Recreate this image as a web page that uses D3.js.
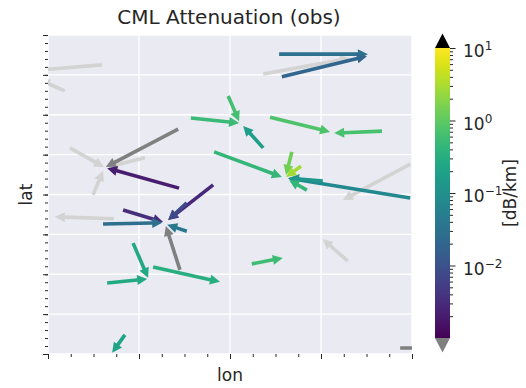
<!DOCTYPE html>
<html>
<head>
<meta charset="utf-8">
<script src="https://cdn.jsdelivr.net/npm/d3@7"></script>
<style>
  body { margin: 0; background: #fff; }
  text { font-family: "DejaVu Sans", "Liberation Sans", Arial, sans-serif; fill: #262626; }
</style>
</head>
<body>
<svg id="chart" width="526" height="388"></svg>
<script>
// Link end points: site A (tail) -> site B (arrow head), degrees
const siteALon = [11.473, 11.119, 11.037, 11.796, 11.048, 11.213, 11.099, 11.145, 11.659,
                  11.286, 11.290, 11.774,
                  11.508, 11.514, 11.314, 11.396, 11.473, 11.488, 11.734, 11.796, 11.604,
                  11.365, 11.569, 11.536, 11.556, 11.288, 11.363, 11.305, 11.165, 11.121,
                  11.305, 11.187, 11.130, 11.231, 11.169, 11.448];
const siteALat = [48.302, 48.325, 48.260, 48.076, 48.117, 48.092, 47.999, 47.939, 47.833,
                  48.164, 47.811, 47.615,
                  48.352, 48.295, 48.192, 48.247, 48.117, 48.194, 48.159, 47.991, 48.034,
                  48.107, 48.011, 48.107, 48.071, 48.016, 48.024, 47.979, 47.961, 47.926,
                  47.908, 47.878, 47.778, 47.818, 47.648, 47.826];
const siteBLon = [11.664, 10.978, 10.982, 11.648, 11.123, 11.132, 11.121, 11.015, 11.604,
                  11.127, 11.259, 11.822,
                  11.703, 11.701, 11.420, 11.420, 11.429, 11.620, 11.629, 11.527, 11.530,
                  11.514, 11.530, 11.523, 11.523, 11.130, 11.264, 11.264, 11.253, 11.251,
                  11.262, 11.220, 11.218, 11.378, 11.141, 11.516];
const siteBLat = [48.342, 48.312, 48.287, 47.986, 48.069, 48.069, 48.059, 47.944, 47.888,
                  48.069, 47.921, 47.615,
                  48.352, 48.347, 48.179, 48.184, 48.172, 48.157, 48.154, 48.041, 48.041,
                  48.044, 48.036, 48.049, 48.044, 48.066, 47.936, 47.936, 47.931, 47.929,
                  47.924, 47.791, 47.788, 47.781, 47.603, 47.841];
// Observed attenuation per link [dB/km]; NaN = no observation
const attenuation = [NaN, NaN, NaN, NaN, NaN, NaN, NaN, NaN, NaN,
                     0.0004, 0.0006, 0.0003,
                     0.030, 0.021, 0.52, 0.63, 0.16, 0.76, 0.69, 0.076, 0.12,
                     0.44, 0.44, 1.3, 2.75, 0.0021, 0.003, 0.0076, 0.0033, 0.028,
                     0.04, 0.25, 0.27, 0.33, 0.21, 0.57];

const lonMajor = [11.0, 11.2, 11.4, 11.6, 11.8];
const latMajor = [47.6, 47.7, 47.8, 47.9, 48.0, 48.1, 48.2, 48.3, 48.4];
const cbarMajor = [10, 1, 0.1, 0.01];
const cbarExponents = ["1", "0", "\u22121", "\u22122"];
const vmin = 1e-3, vmax = 10;

const svg = d3.select("#chart");
const plot = { left: 48, right: 412, top: 35, bottom: 354 };

const x = d3.scaleLinear().domain([11.0, 11.8]).range([plot.left, plot.right]);
const y = d3.scaleLinear().domain([47.6, 48.4]).range([plot.bottom, plot.top]);

const lonMinor = d3.range(11.0, 11.8001, 0.05).map(v => +v.toFixed(3));
const latMinor = d3.range(47.6, 48.4001, 0.02).map(v => +v.toFixed(3));

// background + grid
svg.append("rect")
  .attr("x", plot.left).attr("y", plot.top)
  .attr("width", plot.right - plot.left).attr("height", plot.bottom - plot.top)
  .attr("fill", "#eaeaf2");

const defs = svg.append("defs");
defs.append("clipPath").attr("id", "plotclip")
  .append("rect")
  .attr("x", plot.left).attr("y", plot.top)
  .attr("width", plot.right - plot.left).attr("height", plot.bottom - plot.top);

const grid = svg.append("g");
grid.selectAll("line.gx").data(lonMajor).join("line")
  .attr("x1", d => x(d)).attr("x2", d => x(d))
  .attr("y1", plot.top).attr("y2", plot.bottom)
  .attr("stroke", "#fff").attr("stroke-width", 1.3);
grid.selectAll("line.gy").data(latMajor).join("line")
  .attr("y1", d => y(d)).attr("y2", d => y(d))
  .attr("x1", plot.left).attr("x2", plot.right)
  .attr("stroke", "#fff").attr("stroke-width", 1.3);

// axes: tick marks only, no labels
function styleAxis(g) {
  g.select(".domain").remove();
  g.selectAll(".tick line").attr("stroke", "#262626").attr("stroke-width", 1);
  g.selectAll(".tick text").remove();
}
svg.append("g").attr("transform", `translate(0,${plot.bottom})`)
  .call(d3.axisBottom(x).tickValues(lonMinor).tickSize(3).tickFormat("")).call(styleAxis);
svg.append("g").attr("transform", `translate(0,${plot.bottom})`)
  .call(d3.axisBottom(x).tickValues(lonMajor).tickSize(5).tickFormat("")).call(styleAxis);
svg.append("g").attr("transform", `translate(${plot.left},0)`)
  .call(d3.axisLeft(y).tickValues(latMinor).tickSize(3).tickFormat("")).call(styleAxis);
svg.append("g").attr("transform", `translate(${plot.left},0)`)
  .call(d3.axisLeft(y).tickValues(latMajor).tickSize(5).tickFormat("")).call(styleAxis);

// colour mapping (log norm, viridis, grey under / black over / light grey for missing)
const norm = d3.scaleLog().domain([vmin, vmax]).range([0, 1]);
function colour(v) {
  if (v == null || isNaN(v)) return "#d3d3d3";
  if (v < vmin) return "#808080";
  if (v > vmax) return "#000000";
  return d3.interpolateViridis(norm(v));
}

function arrowPath(x1, y1, x2, y2) {
  const dx = x2 - x1, dy = y2 - y1, L = Math.hypot(dx, dy);
  const ux = dx / L, uy = dy / L, nx = -uy, ny = ux;
  const hl = Math.min(10, L * 0.6), hw = 5, sw = 1.8;
  const bx = x2 - ux * hl, by = y2 - uy * hl;
  const p = d3.path();
  p.moveTo(x1 + nx * sw, y1 + ny * sw);
  p.lineTo(bx + nx * sw, by + ny * sw);
  p.lineTo(bx + nx * hw, by + ny * hw);
  p.lineTo(x2, y2);
  p.lineTo(bx - nx * hw, by - ny * hw);
  p.lineTo(bx - nx * sw, by - ny * sw);
  p.lineTo(x1 - nx * sw, y1 - ny * sw);
  p.closePath();
  return p.toString();
}

const links = attenuation.map((v, i) => ({
  a: [siteALon[i], siteALat[i]], b: [siteBLon[i], siteBLat[i]], v
}));

svg.append("g").attr("clip-path", "url(#plotclip)")
  .selectAll("path").data(links).join("path")
  .attr("d", d => arrowPath(x(d.a[0]), y(d.a[1]), x(d.b[0]), y(d.b[1])))
  .attr("fill", d => colour(d.v));

// colour bar
const cb = { left: 435, width: 15, top: 48, bottom: 338, ext: 14.5 };
const cy = d3.scaleLog().domain([vmin, vmax]).range([cb.bottom, cb.top]);
const grad = defs.append("linearGradient")
  .attr("id", "cbgrad").attr("x1", 0).attr("y1", 1).attr("x2", 0).attr("y2", 0);
grad.selectAll("stop").data(d3.range(0, 1.0001, 1 / 40)).join("stop")
  .attr("offset", d => d).attr("stop-color", d => d3.interpolateViridis(d));
svg.append("rect")
  .attr("x", cb.left).attr("y", cb.top)
  .attr("width", cb.width).attr("height", cb.bottom - cb.top)
  .attr("fill", "url(#cbgrad)");
const cmid = cb.left + cb.width / 2;
svg.append("path")
  .attr("d", `M${cb.left},${cb.top}L${cb.left + cb.width},${cb.top}L${cmid},${cb.top - cb.ext}Z`)
  .attr("fill", colour(vmax * 10));
svg.append("path")
  .attr("d", `M${cb.left},${cb.bottom}L${cb.left + cb.width},${cb.bottom}L${cmid},${cb.bottom + cb.ext}Z`)
  .attr("fill", colour(vmin / 10));

const cbMinor = [];
[0.001, 0.01, 0.1, 1].forEach(d => { for (let k = 2; k <= 9; k++) cbMinor.push(d * k); });
const cbAxisX = cb.left + cb.width;
svg.append("g").attr("transform", `translate(${cbAxisX},0)`)
  .call(d3.axisRight(cy).tickValues(cbMinor).tickSize(3).tickFormat("")).call(styleAxis);
svg.append("g").attr("transform", `translate(${cbAxisX},0)`)
  .call(d3.axisRight(cy).tickValues(cbarMajor).tickSize(5.5).tickFormat("")).call(styleAxis);

const cbl = svg.append("g").selectAll("text").data(cbarMajor).join("text")
  .attr("x", cbAxisX + 13).attr("y", d => cy(d) + 9)
  .attr("font-size", 17);
cbl.append("tspan").text("10");
cbl.append("tspan").attr("dy", -7).attr("font-size", 12).text((d, i) => cbarExponents[i]);

// titles and axis labels
svg.append("text").attr("x", 229).attr("y", 24).attr("text-anchor", "middle")
  .attr("font-size", 20).text("CML Attenuation (obs)");
svg.append("text").attr("x", 230).attr("y", 381).attr("text-anchor", "middle")
  .attr("font-size", 17).text("lon");
svg.append("text").attr("transform", `translate(32,${(plot.top + plot.bottom) / 2}) rotate(-90)`)
  .attr("text-anchor", "middle").attr("font-size", 17).text("lat");
svg.append("text").attr("transform", `translate(516,${(cb.top + cb.bottom) / 2}) rotate(-90)`)
  .attr("text-anchor", "middle").attr("font-size", 17).text("[dB/km]");
</script>
</body>
</html>
